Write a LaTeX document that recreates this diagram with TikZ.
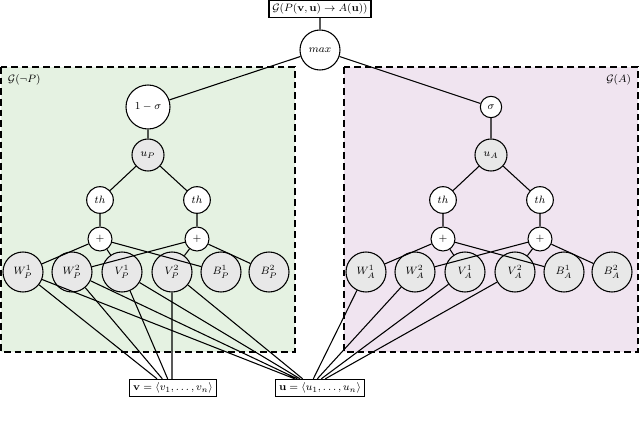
\documentclass[tikz,border=0pt]{standalone}
\usepackage{amsmath}
\usetikzlibrary{positioning}
\definecolor{greenbg}{HTML}{E5F2E2}
\definecolor{purplebg}{HTML}{F0E4F0}
\definecolor{leafgray}{HTML}{E8E8E8}
\tikzset{
	op/.style={draw=black, circle, fill=white, inner sep=0pt, font=\footnotesize, thick},
	leaf/.style={draw=black, circle, fill=leafgray, inner sep=0pt, minimum size=30pt, font=\footnotesize, thick},
	io/.style={draw=black, rectangle, fill=white, inner sep=2.5pt, font=\footnotesize, thick},
	area/.style={draw=black, dash pattern=on 5pt off 3pt, thick},
}
\begin{document}
\begin{tikzpicture}[x=0.75pt, y=-0.75pt, line width=0.8pt]
	\useasboundingbox (0, 0) rectangle (640, 428);
	% sub-graph areas
	\draw[area, fill=greenbg] (1, 67) rectangle (295, 352);
	\draw[area, fill=purplebg] (344, 67) rectangle (638, 352);
	\node[font=\footnotesize, anchor=north west] (gP) at (3, 70) {$\mathcal{G}(\neg P)$};
	\node[font=\footnotesize, anchor=north east] (gA) at (636, 70) {$\mathcal{G}(A)$};

	\node[io] (top) at (320, 9) {$\mathcal{G}(P(\mathbf{v},\mathbf{u})\rightarrow A(\mathbf{u}))$};
	\node[op, minimum size=30pt] (max) at (320, 50) {$max$};
	\node[op, minimum size=33pt] (nsig) at (148, 107) {$1-\sigma$};
	\node[op, minimum size=16pt] (sig) at (491, 107) {$\sigma$};
	\node[leaf, minimum size=24pt] (uP) at (148, 155) {$u_P$};
	\node[leaf, minimum size=24pt] (uA) at (491, 155) {$u_A$};

	\foreach \s/\x in {P/0, A/343} {
		\node[op, minimum size=20pt] (th1\s) at (100+\x, 200) {$th$};
		\node[op, minimum size=20pt] (th2\s) at (197+\x, 200) {$th$};
		\node[op, minimum size=18pt] (pl1\s) at (100+\x, 239) {$+$};
		\node[op, minimum size=18pt] (pl2\s) at (197+\x, 239) {$+$};
		\node[leaf] (W1\s) at (23+\x, 272) {$W^1_\s$};
		\node[leaf] (W2\s) at (72+\x, 272) {$W^2_\s$};
		\node[leaf] (V1\s) at (122+\x, 272) {$V^1_\s$};
		\node[leaf] (V2\s) at (172+\x, 272) {$V^2_\s$};
		\node[leaf] (B1\s) at (221+\x, 272) {$B^1_\s$};
		\node[leaf] (B2\s) at (269+\x, 272) {$B^2_\s$};
		\draw (u\s) -- (th1\s) (u\s) -- (th2\s)
			(th1\s) -- (pl1\s) (th2\s) -- (pl2\s)
			(pl1\s) -- (W1\s) (pl1\s) -- (V1\s) (pl1\s) -- (B1\s)
			(pl2\s) -- (W2\s) (pl2\s) -- (V2\s) (pl2\s) -- (B2\s);
	}

	\node[io] (v) at (173, 388) {$\mathbf{v}=\langle v_1,\ldots,v_n\rangle$};
	\node[io] (u) at (320, 388) {$\mathbf{u}=\langle u_1,\ldots,u_n\rangle$};

	\draw (top) -- (max) (max) -- (nsig) (max) -- (sig)
		(nsig) -- (uP) (sig) -- (uA);

	% inputs
	\draw (W1P) -- ([xshift=-12pt]v.north) (W2P) -- ([xshift=-8pt]v.north)
		(V1P) -- ([xshift=-4pt]v.north) (V2P) -- (V2P |- v.north);
	\draw (W1P) -- ([xshift=-19pt]u.north) (W2P) -- ([xshift=-17pt]u.north)
		(V1P) -- ([xshift=-15pt]u.north) (V2P) -- ([xshift=-13pt]u.north);
	\draw (W1A) -- ([xshift=-5pt]u.north) (W2A) -- ([xshift=-2pt]u.north)
		(V1A) -- ([xshift=1pt]u.north) (V2A) -- ([xshift=4pt]u.north);
\end{tikzpicture}
\end{document}
